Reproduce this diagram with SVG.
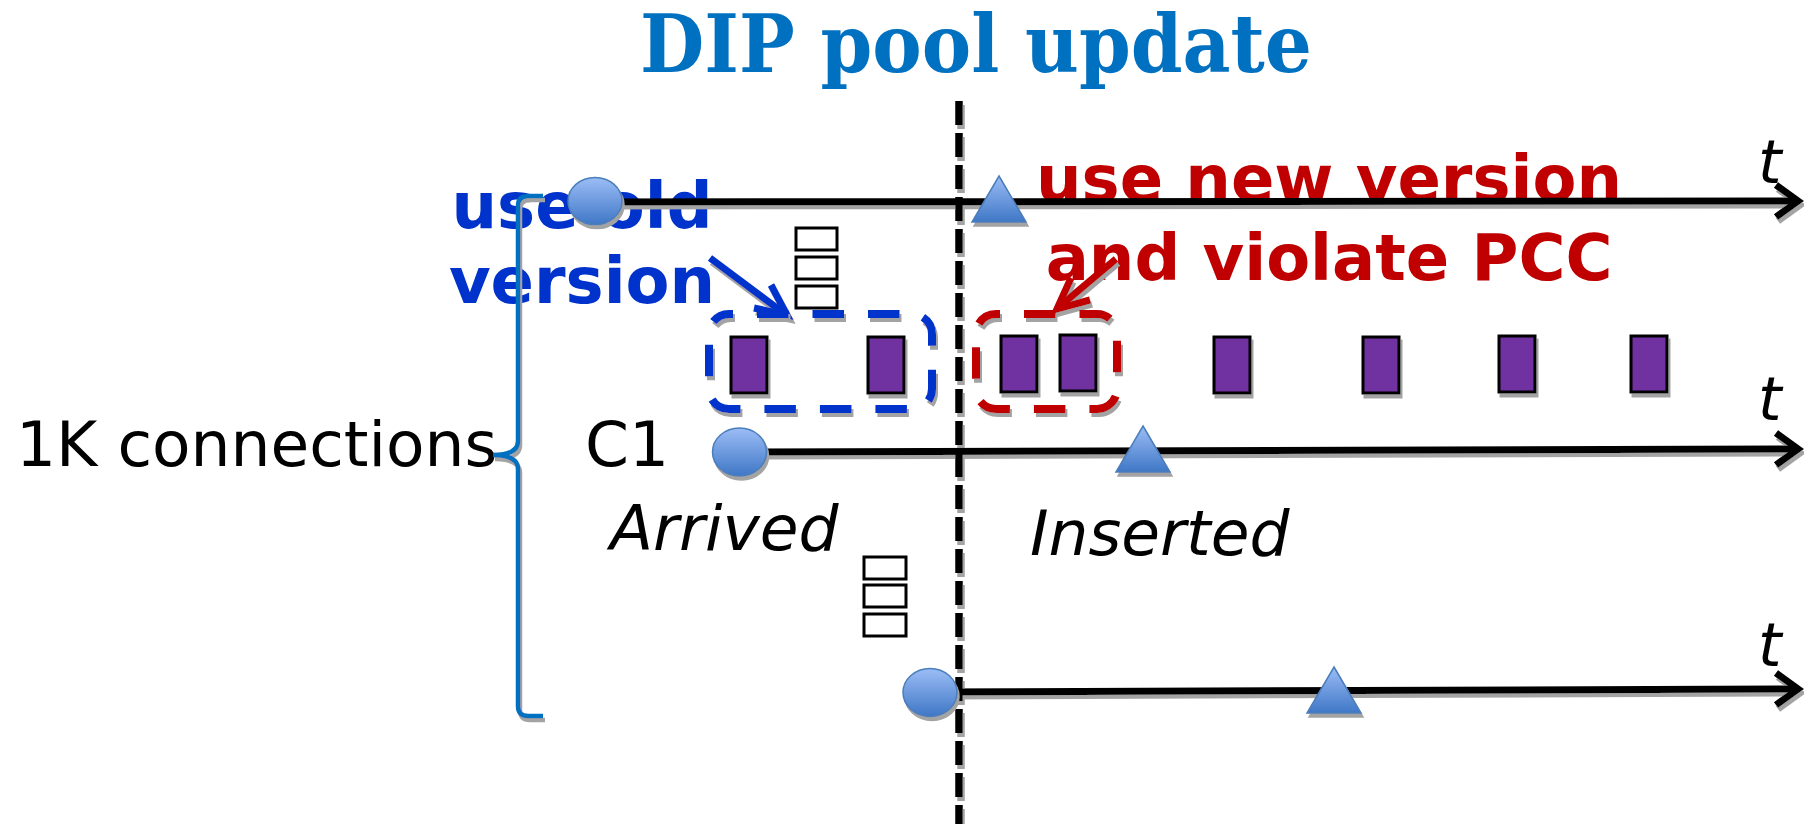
<svg xmlns="http://www.w3.org/2000/svg" width="1804" height="824" viewBox="0 0 1804 824">
  <defs>
    <style>
      .title { font-family: "DejaVu Serif", "Liberation Serif", serif; font-weight: bold; font-size: 80px; fill: #0070C0; }
      .lbl { font-family: "DejaVu Sans", "Liberation Sans", sans-serif; font-size: 63px; fill: #000; }
      .ital { font-style: italic; }
      .tlab { font-family: "DejaVu Sans", "Liberation Sans", sans-serif; font-style: italic; font-size: 60px; fill: #000; }
      .note { font-family: "DejaVu Sans", "Liberation Sans", sans-serif; font-weight: bold; font-size: 64px; text-anchor: middle; }
      .old { fill: #0033CC; }
      .new { fill: #C00000; }
      .axis { fill: none; stroke: #000; stroke-width: 7; stroke-linejoin: miter; }
      .cut { fill: none; stroke: #000; stroke-width: 7.5; stroke-dasharray: 24 8; }
      .pkt { fill: #7030A0; stroke: #000; stroke-width: 3; }
      .grp { fill: none; stroke-width: 8; stroke-dasharray: 31.5 24; stroke-dashoffset: 27.5; }
      .ptr { fill: none; stroke-width: 7; stroke-linejoin: miter; }
      .brace { fill: none; stroke: #0070C0; stroke-width: 4.5; }
      .tofu { fill: #fff; stroke: #000; stroke-width: 3; }
      .ev { fill: url(#evfill); stroke: #4A7EBB; stroke-width: 1.5; }
    </style>
    <linearGradient id="evfill" x1="0" y1="0" x2="0" y2="1">
      <stop offset="0" stop-color="#9CBDF6"/>
      <stop offset="1" stop-color="#3F77C6"/>
    </linearGradient>
    <filter id="sh" filterUnits="userSpaceOnUse" x="0" y="0" width="1804" height="824">
      <feOffset in="SourceAlpha" dx="1.5" dy="3.5" result="o"/>
      <feFlood flood-color="#A3A3A3"/>
      <feComposite in2="o" operator="in" result="s"/>
      <feMerge><feMergeNode in="s"/><feMergeNode in="SourceGraphic"/></feMerge>
    </filter>
  </defs>

  <rect width="1804" height="824" fill="#fff"/>

  <!-- labels -->
  <g id="labels">
    <text class="title" x="976" y="72" text-anchor="middle" textLength="672" lengthAdjust="spacingAndGlyphs">DIP pool update</text>
    <text class="note old" x="582" y="228">use old</text>
    <text class="note old" x="582" y="303">version</text>
    <text class="note new" x="1329" y="201">use new version</text>
    <text class="note new" x="1329" y="280">and violate PCC</text>
    <text class="lbl" x="16" y="466">1K connections</text>
    <text class="lbl" x="585" y="466">C1</text>
    <text class="lbl ital" x="610" y="550">Arrived</text>
    <text class="lbl ital" x="1030" y="555">Inserted</text>
    <text class="tlab" x="1758" y="183">t</text>
    <text class="tlab" x="1758" y="420">t</text>
    <text class="tlab" x="1758" y="666">t</text>
  </g>

  <!-- brace grouping the connections -->
  <g id="brace" filter="url(#sh)">
    <path class="brace" d="M543,196 L528,196 Q518,196 518,206 L518,441 Q518,455 493,455 Q518,455 518,469 L518,706 Q518,716 528,716 L543,716"/>
  </g>

  <!-- connectors: time axes, update cut and callout arrows -->
  <g id="connectors" filter="url(#sh)">
    <path class="axis" d="M595,202 L1796,201"/>
    <path class="axis" d="M1776,185 L1798,201 L1776,217"/>
    <path class="axis" d="M739,452 L1796,449"/>
    <path class="axis" d="M1776,433 L1798,449 L1776,465"/>
    <path class="axis" d="M930,692 L1796,689"/>
    <path class="axis" d="M1776,673 L1798,689 L1776,705"/>
    <path class="cut" d="M959,101 L959,824"/>
    <path class="ptr" stroke="#0033CC" d="M710,258 L785,314"/>
    <path class="ptr" stroke="#0033CC" d="M771,285 L787,315 L754,308"/>
    <path class="ptr" stroke="#C00000" d="M1116,259 L1059,307"/>
    <path class="ptr" stroke="#C00000" d="M1090,300 L1057,309 L1071,278"/>
  </g>

  <!-- packet groups -->
  <g id="old-group" filter="url(#sh)">
    <rect class="grp" stroke="#0033CC" x="709" y="314" width="223" height="95" rx="20"/>
  </g>
  <g id="new-group" filter="url(#sh)">
    <rect class="grp" stroke="#C00000" x="976" y="314" width="141" height="95" rx="20"/>
  </g>

  <!-- packets of C1 -->
  <g id="packets" filter="url(#sh)">
    <rect class="pkt" x="731" y="337" width="36" height="56"/>
    <rect class="pkt" x="868" y="337" width="36" height="56"/>
    <rect class="pkt" x="1001" y="336" width="36" height="56"/>
    <rect class="pkt" x="1060" y="335" width="36" height="56"/>
    <rect class="pkt" x="1214" y="337" width="36" height="56"/>
    <rect class="pkt" x="1363" y="337" width="36" height="56"/>
    <rect class="pkt" x="1499" y="336" width="36" height="56"/>
    <rect class="pkt" x="1631" y="336" width="36" height="56"/>
  </g>

  <!-- elided connections -->
  <g id="more-1">
    <rect class="tofu" x="796" y="228" width="41" height="22"/>
    <rect class="tofu" x="796" y="257" width="41" height="22"/>
    <rect class="tofu" x="796" y="286" width="41" height="22"/>
  </g>
  <g id="more-2">
    <rect class="tofu" x="864" y="557" width="42" height="22"/>
    <rect class="tofu" x="864" y="585" width="42" height="22"/>
    <rect class="tofu" x="864" y="614" width="42" height="22"/>
  </g>

  <!-- arrival events -->
  <g id="arrive-top" filter="url(#sh)">
    <ellipse class="ev" cx="595" cy="201" rx="27" ry="23.5"/>
  </g>
  <g id="arrive-c1" filter="url(#sh)">
    <ellipse class="ev" cx="739.5" cy="452" rx="27" ry="24"/>
  </g>
  <g id="arrive-bottom" filter="url(#sh)">
    <ellipse class="ev" cx="930" cy="692.5" rx="27" ry="24"/>
  </g>

  <!-- insertion events -->
  <g id="insert-top" filter="url(#sh)">
    <polygon class="ev" points="999,176 1026,222 972,222"/>
  </g>
  <g id="insert-c1" filter="url(#sh)">
    <polygon class="ev" points="1143,426 1170,472 1116,472"/>
  </g>
  <g id="insert-bottom" filter="url(#sh)">
    <polygon class="ev" points="1334,667 1361,713 1307,713"/>
  </g>
</svg>
